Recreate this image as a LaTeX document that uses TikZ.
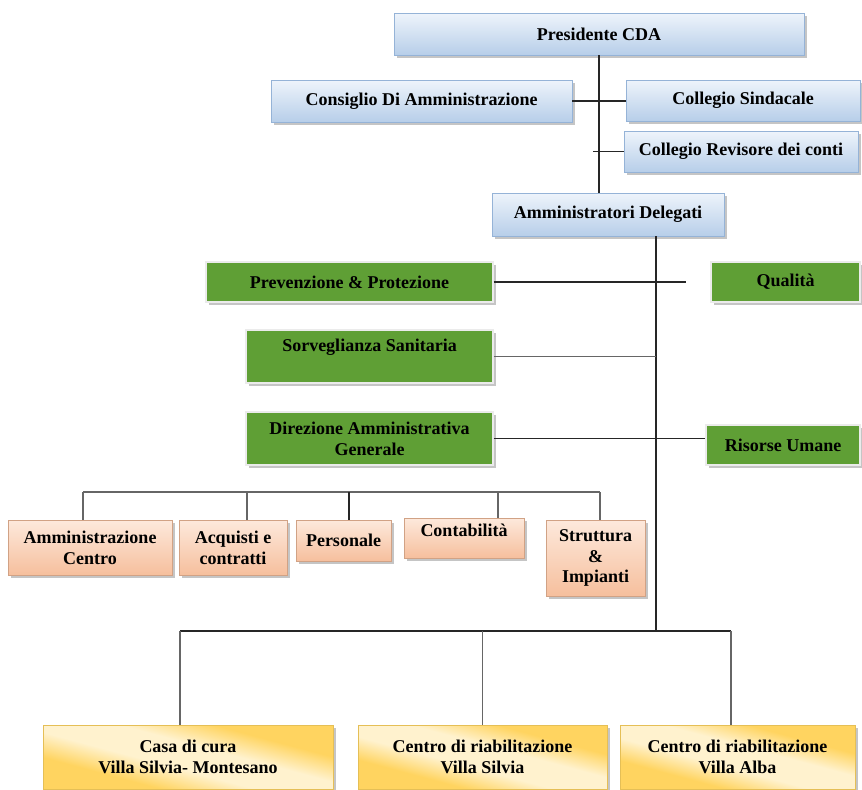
\documentclass[tikz,border=0pt]{standalone}
\usepackage{fontspec}
\setmainfont{Liberation Serif}
\usetikzlibrary{shadows}

\definecolor{bluetop}{HTML}{EEF4FB}
\definecolor{bluebot}{HTML}{B7CEE9}
\definecolor{blueline}{HTML}{95B3D7}
\definecolor{greenfill}{HTML}{5F9F35}
\definecolor{orangedark}{HTML}{F6BF9D}
\definecolor{orangelight}{HTML}{FDE9DC}
\definecolor{goldA}{HTML}{FFD460}
\definecolor{goldB}{HTML}{FFF2CE}

\pgfdeclarehorizontalshading{goldband}{100bp}{color(0bp)=(goldA); color(33bp)=(goldA); color(44bp)=(goldB); color(56bp)=(goldB); color(67bp)=(goldA); color(100bp)=(goldA)}

\tikzset{
  box/.style={align=center, inner sep=2pt, font=\fontsize{13.5}{15.5}\selectfont\bfseries,
    drop shadow={shadow xshift=2pt, shadow yshift=-2pt, fill=black!45}},
  bluebox/.style={box, top color=bluetop, bottom color=bluebot, draw=blueline, line width=0.6pt},
  greenbox/.style={box, fill=greenfill, draw=black!8, line width=1pt},
  orangebox/.style={box, top color=orangelight, bottom color=orangedark, draw=orangedark!85!black, line width=0.4pt},
  goldbox/.style={box, shading=goldband, shading angle=75, draw=goldA!90!black, line width=0.4pt},
  conn/.style={draw=black!85, line width=0.9pt},
  thin conn/.style={draw=black!60, line width=0.8pt}
}

\begin{document}
\begin{tikzpicture}[x=0.75pt,y=-0.75pt]
                              \useasboundingbox (0,0) rectangle (862,789);

                              \node[bluebox, minimum width=307.5pt, minimum height=31.5pt] (pres) at (599,34) {Presidente CDA};
                              \node[bluebox, minimum width=225.75pt, minimum height=31.5pt] (cda) at (421.5,101) {Consiglio Di Amministrazione};
                              \node[bluebox, minimum width=175.5pt, minimum height=30.75pt] (sind) at (743,100.5) {Collegio Sindacale};
                              \node[bluebox, minimum width=175.5pt, minimum height=30.75pt] (rev) at (741,151.5) {Collegio Revisore dei conti};
                              \node[bluebox, minimum width=174pt, minimum height=32.25pt] (deleg) at (608,214.5) {Amministratori Delegati};

                              \node[greenbox, minimum width=215.25pt, minimum height=30pt] (prev) at (349.5,282) {Prevenzione \& Protezione};
                              \node[greenbox, minimum width=111.75pt, minimum height=30pt] (qual) at (785.5,282) {Qualità};
                              \node[greenbox, minimum width=185.25pt, minimum height=39.75pt] (sorv) at (369.5,356.5) {Sorveglianza Sanitaria\\[2pt]\mbox{}};
                              \node[greenbox, minimum width=185.25pt, minimum height=39.75pt] (dir) at (369.5,438.5) {Direzione Amministrativa\\Generale};
                              \node[greenbox, minimum width=115.5pt, minimum height=30pt] (ris) at (783,445) {Risorse Umane};

                              \node[orangebox, minimum width=123pt, minimum height=41.25pt] (ammc) at (90,547.5) {Amministrazione\\Centro};
                              \node[orangebox, minimum width=81pt, minimum height=41.25pt] (acq) at (233,547.5) {Acquisti e\\contratti};
                              \node[orangebox, minimum width=71.25pt, minimum height=30.75pt] (pers) at (343.5,540.5) {Personale};
                              \node[orangebox, minimum width=90pt, minimum height=30pt] (cont) at (464,538) {Contabilità\\[-4pt]\mbox{}};
                              \node[orangebox, minimum width=74.25pt, minimum height=57pt] (strutt) at (595.5,558) {Struttura\\\&\\Impianti};

                              \node[goldbox, minimum width=217.5pt, minimum height=48pt] (casa) at (188,757) {Casa di cura\\Villa Silvia- Montesano};
                              \node[goldbox, minimum width=186.75pt, minimum height=48pt] (silvia) at (482.5,757) {Centro di riabilitazione\\Villa Silvia};
                              \node[goldbox, minimum width=176.25pt, minimum height=48pt] (alba) at (737.5,757) {Centro di riabilitazione\\Villa Alba};

                              \coordinate (revstub) at (593,151.5);
                              \coordinate (split) at (656,631);
                              \coordinate (qstub) at (686,282);
                              \coordinate (obar) at (83,492);
                              \coordinate (bbar) at (180,631);

                              \draw[conn] (pres.south) -- (pres.south |- deleg.north);
                              \draw[conn] (cda.east) -- (cda.east -| sind.west);
                              \draw[conn] (rev.west) -- (revstub);
                              \draw[conn] (split |- deleg.south) -- (split);
                              \draw[conn] (prev.east) -- (qstub);
                              \draw[thin conn] (sorv.east) -- (sorv.east -| split);
                              \draw[conn] (dir.east) -- (dir.east -| ris.west);

                              \draw[thin conn] (obar) -- (obar -| 600,0);
                              \draw[thin conn] (obar) -- (obar |- ammc.north);
                              \draw[thin conn] (obar -| 247,0) -- (247,0 |- acq.north);
                              \draw[conn] (obar -| 349,0) -- (349,0 |- pers.north);
                              \draw[thin conn] (obar -| 498,0) -- (498,0 |- cont.north);
                              \draw[thin conn] (obar -| 600,0) -- (600,0 |- strutt.north);

                              \draw[conn] (bbar) -- (split -| 731,0);
                              \draw[thin conn] (bbar) -- (bbar |- casa.north);
                              \draw[thin conn] (silvia.north |- split) -- (silvia.north);
                              \draw[thin conn] (split -| 731,0) -- (731,0 |- alba.north);
                      \end{tikzpicture}
\end{document}
